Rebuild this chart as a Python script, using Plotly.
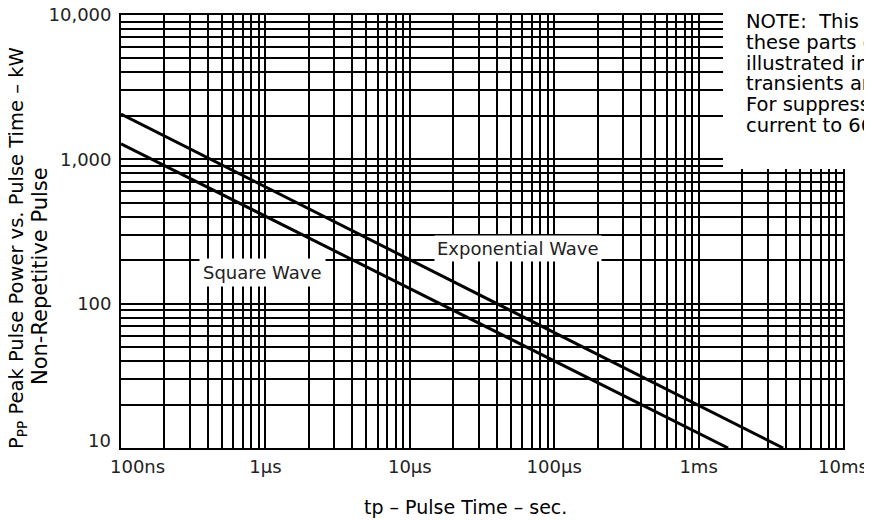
import plotly.graph_objects as go

# ---- data ----
exp_t = [1e-7, 3.85e-3]          # seconds
exp_p = [2060, 10]               # kW
sq_t = [1e-7, 1.6e-3]
sq_p = [1280, 10]

x_decades = [1e-7, 1e-6, 1e-5, 1e-4, 1e-3, 1e-2]
x_labels = ["100ns", "1\u00b5s", "10\u00b5s", "100\u00b5s", "1ms", "10ms"]
y_decades = [10, 100, 1000, 10000]
y_labels = ["10", "100", "1,000", "10,000"]

series_names = ["Exponential Wave", "Square Wave"]
note_lines = ["NOTE:  This P", "these parts ov", "illustrated in A",
              "transients are", "For suppressi", "current to 66%"]
y_title_lines = ["P<sub>PP</sub> Peak Pulse Power vs. Pulse Time \u2013 kW",
                 "Non-Repetitive Pulse"]
x_title = "tp \u2013 Pulse Time \u2013 sec."

FONT = "DejaVu Sans"
OFF = 8                      # default page body margin of the html page
W, H = 872 - OFF, 521 - OFF  # figure size so that it fills the window
L, R, T, B = 121, 843, 15, 448   # plot area in window px


def all_ticks(decades, labels):
    vals, texts = [], []
    for i, d in enumerate(decades):
        vals.append(d)
        texts.append(labels[i])
        if i < len(decades) - 1:
            for m in range(2, 10):
                vals.append(d * m)
                texts.append("")
    return vals, texts


xv, xt = all_ticks(x_decades, x_labels)
yv, yt = all_ticks(y_decades, y_labels)
# the two corner labels are drawn separately (nudged apart as in the original)
xt[0] = ""
yt[0] = ""

fig = go.Figure()
fig.add_trace(go.Scatter(x=exp_t, y=exp_p, mode="lines", name=series_names[0],
                         line=dict(color="black", width=3), showlegend=False))
fig.add_trace(go.Scatter(x=sq_t, y=sq_p, mode="lines", name=series_names[1],
                         line=dict(color="black", width=3), showlegend=False))

TICKFONT = dict(family=FONT, size=18, color="#222")
axis_common = dict(showgrid=True, gridcolor="black", gridwidth=1.5,
                   showline=True, linecolor="black", linewidth=1.8, mirror=True,
                   ticks="", zeroline=False, automargin=False,
                   ticklabeloverflow="allow", tickfont=TICKFONT)

fig.update_xaxes(type="log", range=[-7, -2], tickmode="array", tickvals=xv,
                 ticktext=xt, ticklabelstandoff=1, **axis_common)
fig.update_yaxes(type="log", range=[1, 4], tickmode="array", tickvals=yv,
                 ticktext=yt, ticklabelstandoff=4, **axis_common)


def px_x(px):
    return (px - L) / (R - L)


def px_y(py):
    return (B - py) / (B - T)


# white box behind the note (covers the grid in the top-right)
fig.add_shape(type="rect", xref="paper", yref="paper",
              x0=px_x(723), x1=px_x(890), y0=px_y(169), y1=px_y(-20),
              fillcolor="white", line=dict(width=0), layer="above")

annotations = []
# corner tick labels
annotations.append(dict(x=px_x(137), y=px_y(466), xref="paper", yref="paper",
                        text=x_labels[0], showarrow=False, xanchor="center",
                        yanchor="middle", borderpad=0, font=TICKFONT))
annotations.append(dict(x=px_x(112), y=px_y(440), xref="paper", yref="paper",
                        text=y_labels[0], showarrow=False, xanchor="right",
                        yanchor="middle", borderpad=0, font=TICKFONT))

# series labels with white backgrounds
annotations.append(dict(x=-4.251, y=2.379, xref="x", yref="y", text=series_names[0],
                        showarrow=False, bgcolor="white", borderpad=2,
                        font=dict(family=FONT, size=18, color="#222")))
annotations.append(dict(x=-6.02, y=2.219, xref="x", yref="y", text=series_names[1],
                        showarrow=False, bgcolor="white", borderpad=3,
                        font=dict(family=FONT, size=18, color="#222")))

# note text: one block, tight line spacing (16px base), larger glyphs
note_text = "<br>".join('<span style="font-size:19.5px">%s</span>' % s
                        for s in note_lines)
annotations.append(dict(x=px_x(745), y=px_y(73.5), xref="paper", yref="paper",
                        xanchor="left", yanchor="middle", align="left",
                        text=note_text, showarrow=False, borderpad=0,
                        font=dict(family=FONT, size=16, color="black")))

# axis titles
annotations.append(dict(x=px_x(465), y=px_y(507), xref="paper", yref="paper",
                        text=x_title, showarrow=False,
                        xanchor="center", yanchor="middle",
                        font=dict(family=FONT, size=19, color="black")))
annotations.append(dict(x=px_x(17), y=px_y(248), xref="paper", yref="paper",
                        text=y_title_lines[0], textangle=-90, showarrow=False,
                        xanchor="center", yanchor="middle",
                        font=dict(family=FONT, size=19.5, color="black")))
annotations.append(dict(x=px_x(40), y=px_y(276), xref="paper", yref="paper",
                        text=y_title_lines[1], textangle=-90, showarrow=False,
                        xanchor="center", yanchor="middle",
                        font=dict(family=FONT, size=21, color="black")))

fig.update_layout(width=W, height=H, autosize=False,
                  margin=dict(l=L - OFF, r=W - (R - OFF), t=T - OFF,
                              b=H - (B - OFF), pad=0),
                  paper_bgcolor="white", plot_bgcolor="white",
                  annotations=annotations, showlegend=False)

fig.write_html("out.html")
